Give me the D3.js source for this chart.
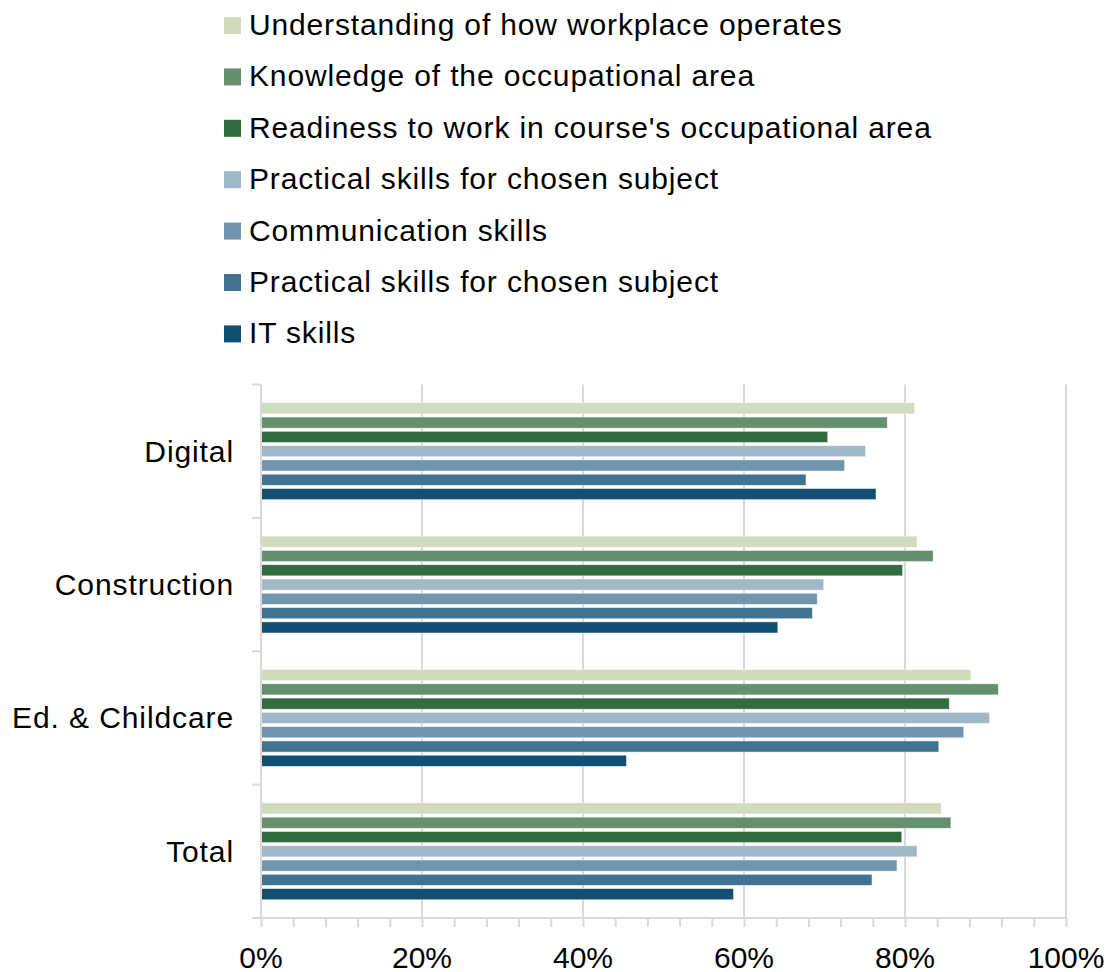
<!DOCTYPE html>
<html>
<head>
<meta charset="utf-8">
<script src="https://cdn.jsdelivr.net/npm/d3@7"></script>
<style>
  html, body { margin: 0; padding: 0; background: #fff; }
  svg { display: block; font-family: Arial, "Liberation Sans", sans-serif; }
</style>
</head>
<body>
<svg id="chart" width="1110" height="972"></svg>
<script>
// Sector categories, top to bottom
const categories = ["Digital", "Construction", "Ed. & Childcare", "Total"];

// Skill measures, in legend order (top to bottom within each sector)
const seriesNames = [
  "Understanding of how workplace operates",
  "Knowledge of the occupational area",
  "Readiness to work in course's occupational area",
  "Practical skills for chosen subject",
  "Communication skills",
  "Practical skills for chosen subject",
  "IT skills"
];

// Share of learners (%) per sector, one array per measure
const understanding = [81.2, 81.5, 88.2, 84.5];
const knowledge     = [77.8, 83.5, 91.6, 85.7];
const readiness     = [70.4, 79.7, 85.5, 79.6];
const practicalA    = [75.1, 69.9, 90.5, 81.5];
const communication = [72.5, 69.1, 87.3, 79.0];
const practicalB    = [67.7, 68.5, 84.2, 75.9];
const itSkills      = [76.4, 64.2, 45.4, 58.7];

const seriesValues = [understanding, knowledge, readiness, practicalA, communication, practicalB, itSkills];

const colors = ["#d0dcbd", "#65906f", "#336b41", "#a1b8c8", "#7195ae", "#417391", "#124f73"];

const xTicks = [0, 20, 40, 60, 80, 100];

const svg = d3.select("#chart");

const plot = { left: 261, right: 1066, top: 384.5, bottom: 918 };

const x = d3.scaleLinear().domain([0, 100]).range([plot.left, plot.right]);
const y = d3.scaleBand().domain(categories).range([plot.top, plot.bottom]).paddingInner(0.25).paddingOuter(0.125);
const ySub = d3.scaleBand().domain(d3.range(seriesNames.length)).range([0, y.bandwidth()]).paddingInner(0.22).paddingOuter(0.11);

const grid = "#d9d9d9";

// Vertical gridlines
svg.append("g")
  .selectAll("line")
  .data(xTicks.filter(d => d > 0))
  .join("line")
  .attr("x1", d => x(d)).attr("x2", d => x(d))
  .attr("y1", plot.top).attr("y2", plot.bottom)
  .attr("stroke", grid).attr("stroke-width", 2);

// Bars
const groups = svg.append("g")
  .selectAll("g")
  .data(categories)
  .join("g")
  .attr("transform", d => `translate(0,${y(d)})`);

groups.selectAll("rect")
  .data((c, ci) => seriesValues.map((vals, si) => ({ si, v: vals[ci] })))
  .join("rect")
  .attr("x", x(0))
  .attr("y", d => ySub(d.si))
  .attr("width", d => x(d.v) - x(0))
  .attr("height", ySub.bandwidth())
  .attr("fill", d => colors[d.si])
  .attr("stroke", "#ffffff")
  .attr("stroke-opacity", 0.6)
  .attr("stroke-width", 0.8);

// Category axis with tick marks at band boundaries
const yAxisG = svg.append("g");
yAxisG.append("line")
  .attr("x1", plot.left).attr("x2", plot.left)
  .attr("y1", plot.top).attr("y2", plot.bottom)
  .attr("stroke", grid).attr("stroke-width", 2);
const bounds = categories.map(c => y(c) - y.step() * y.paddingOuter()).concat([plot.bottom]);
yAxisG.selectAll("line.tk")
  .data(bounds)
  .join("line")
  .attr("class", "tk")
  .attr("x1", plot.left - 9).attr("x2", plot.left)
  .attr("y1", d => d).attr("y2", d => d)
  .attr("stroke", grid).attr("stroke-width", 2);
yAxisG.selectAll("text")
  .data(categories)
  .join("text")
  .attr("x", 234)
  .attr("y", d => y(d) + y.bandwidth() / 2)
  .attr("dy", "0.35em")
  .attr("text-anchor", "end")
  .attr("font-size", 30)
  .attr("letter-spacing", 0.9)
  .attr("fill", "#000")
  .text(d => d);

// Value axis along the bottom
const xAxis = d3.axisBottom(x)
  .tickValues(d3.range(0, 101, 4))
  .tickSize(9)
  .tickFormat("");
const xAxisG = svg.append("g")
  .attr("transform", `translate(0,${plot.bottom})`)
  .call(xAxis);
xAxisG.select(".domain").remove();
xAxisG.selectAll(".tick line").attr("stroke", grid).attr("stroke-width", 2);
xAxisG.append("line")
  .attr("x1", plot.left - 9).attr("x2", plot.right)
  .attr("y1", 0).attr("y2", 0)
  .attr("stroke", grid).attr("stroke-width", 2);
xAxisG.selectAll("text.lbl")
  .data(xTicks)
  .join("text")
  .attr("class", "lbl")
  .attr("x", d => x(d))
  .attr("y", 49.5)
  .attr("text-anchor", "middle")
  .attr("font-size", 30)
  .attr("fill", "#000")
  .text(d => d + "%");

// Legend
const legend = svg.append("g").attr("transform", "translate(224,0)");
const rows = legend.selectAll("g")
  .data(seriesNames)
  .join("g")
  .attr("transform", (d, i) => `translate(0,${24.5 + i * 51.4})`);
rows.append("rect")
  .attr("x", 0).attr("y", -7.5)
  .attr("width", 17).attr("height", 17)
  .attr("fill", (d, i) => colors[i]);
rows.append("text")
  .attr("x", 25)
  .attr("dy", "0.35em")
  .attr("font-size", 30)
  .attr("letter-spacing", 0.85)
  .attr("fill", "#000")
  .text(d => d);
</script>
</body>
</html>
